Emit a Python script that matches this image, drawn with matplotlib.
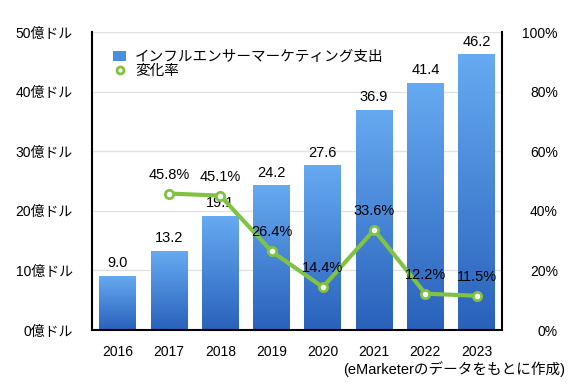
import numpy as np
import matplotlib
matplotlib.use("Agg")
import matplotlib.pyplot as plt
from matplotlib.colors import LinearSegmentedColormap
from matplotlib.lines import Line2D
from matplotlib.patches import Patch

plt.rcParams['font.family'] = ['Liberation Sans', 'Noto Sans CJK JP', 'DejaVu Sans']

years = ["2016", "2017", "2018", "2019", "2020", "2021", "2022", "2023"]
spend = [9.0, 13.2, 19.1, 24.2, 27.6, 36.9, 41.4, 46.2]
rate_years = ["2017", "2018", "2019", "2020", "2021", "2022", "2023"]
rate = [45.8, 45.1, 26.4, 14.4, 33.6, 12.2, 11.5]

fig = plt.figure(figsize=(5.8, 3.86), dpi=100)
ax = fig.add_axes([0.159, 0.145, 0.707, 0.772])

x = np.arange(len(years))
w = 0.72
cmap = LinearSegmentedColormap.from_list("bar", ["#2961bb", "#66aaf1"])
grad = np.linspace(0, 1, 256).reshape(-1, 1)

ax.set_ylim(0, 50)
ax.set_yticks(range(0, 51, 10))
ax.set_yticklabels([f"{v}億ドル" for v in range(0, 51, 10)], fontsize=10)
ax.grid(axis='y', color='#e2e2e2', lw=1)
ax.set_axisbelow(True)

bars = ax.bar(x, spend, width=w, color='none', zorder=2)
for b, v in zip(bars, spend):
    ax.imshow(grad, extent=[b.get_x(), b.get_x() + w, 0, v], origin='lower',
              cmap=cmap, aspect='auto', zorder=2)
    ax.text(b.get_x() + w / 2, v + 1.0, f"{v:.1f}", ha='center', va='bottom', fontsize=10.5, zorder=5)
ax.set_aspect('auto')
ax.set_xlim(-0.5, len(years) - 0.5)
ax.set_ylim(0, 50)
ax.set_xticks(x)
ax.set_xticklabels(years, fontsize=10)
ax.tick_params(axis='x', length=0, pad=11)
ax.tick_params(axis='y', length=0, pad=14)
for s in ['left', 'bottom']:
    ax.spines[s].set_linewidth(1.5)
ax.spines['top'].set_visible(False)
ax.spines['right'].set_visible(False)

ax2 = ax.twinx()
ax2.set_ylim(0, 100)
ax2.set_yticks(range(0, 101, 20))
ax2.set_yticklabels([f"{v}%" for v in range(0, 101, 20)], fontsize=10, ha='right')
ax2.tick_params(length=0, pad=40)
for s in ['left', 'bottom', 'top']:
    ax2.spines[s].set_visible(False)
ax2.spines['right'].set_linewidth(1.5)

rx = [years.index(y) for y in rate_years]
ax2.plot(rx, rate, color='#80c342', lw=3, marker='o', ms=6, mfc='white', mec='#80c342', mew=2, zorder=4)
for xi, r in zip(rx, rate):
    ax2.text(xi, r + 4, f"{r}%", ha='center', va='bottom', fontsize=10.5, zorder=6)

handles = [Patch(facecolor='#4a8ee0', edgecolor='none'),
           Line2D([], [], color='none', marker='o', ms=5, mfc='white', mec='#80c342', mew=2)]
ax2.legend(handles, ["インフルエンサーマーケティング支出", "変化率"], loc='upper left',
           bbox_to_anchor=(0.03, 0.97), frameon=False, fontsize=10.5, handlelength=0.9,
           handletextpad=0.6, labelspacing=0.0, borderaxespad=0.2)

fig.text(0.975, 0.045, "(eMarketerのデータをもとに作成)", ha='right', va='center', fontsize=10.5)

fig.savefig("out.png", dpi=100)
